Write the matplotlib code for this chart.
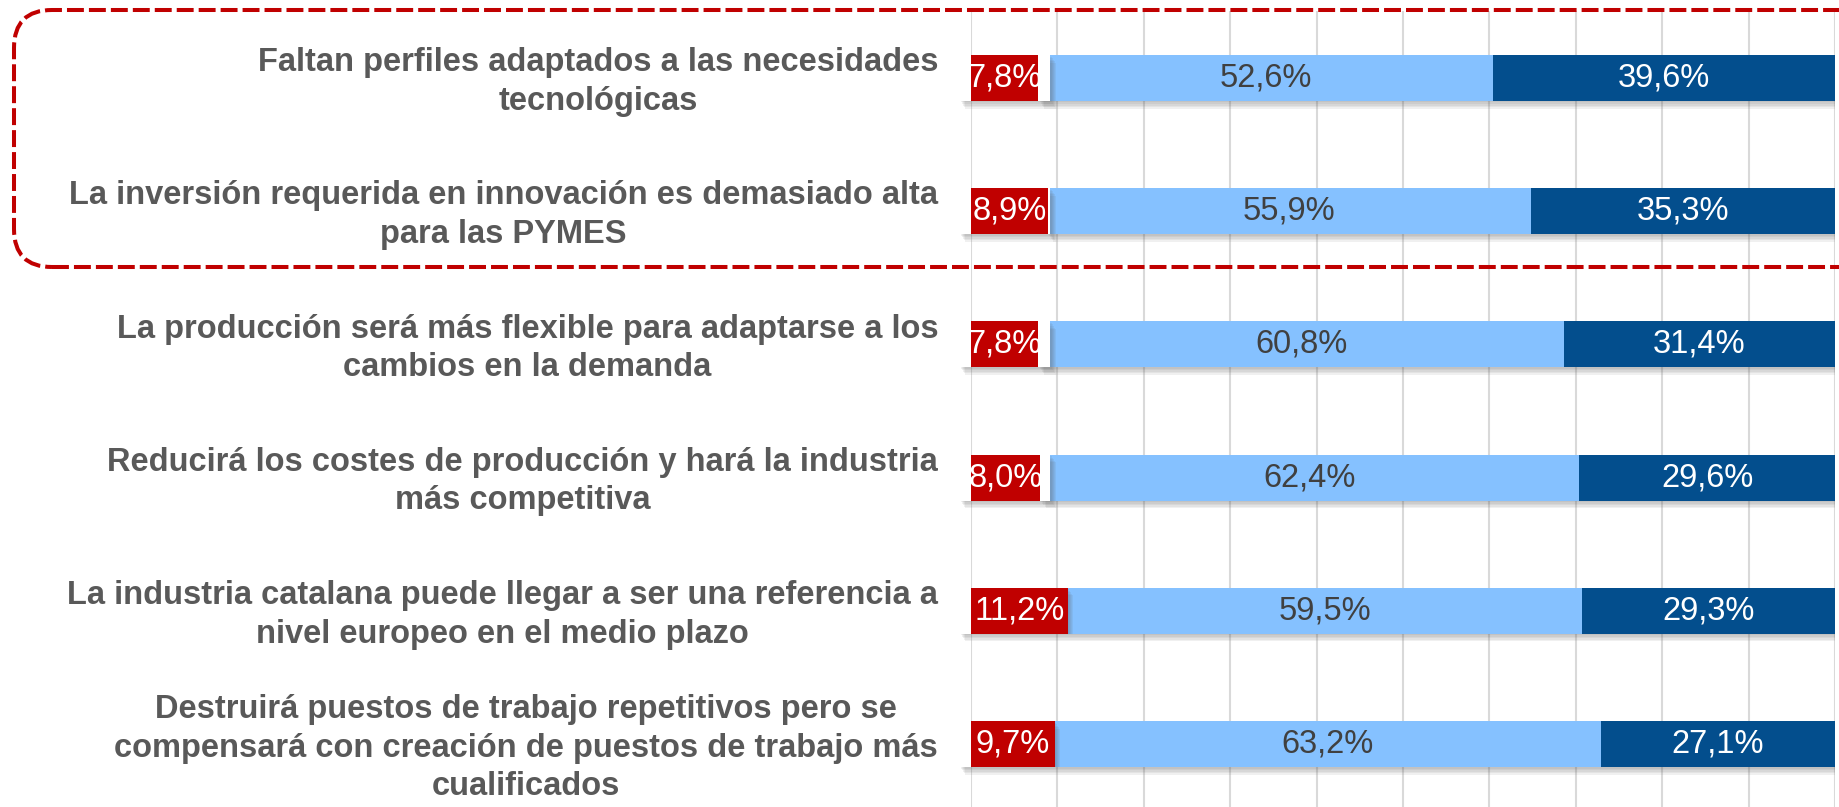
import numpy as np
import matplotlib
matplotlib.use("Agg")
import matplotlib.pyplot as plt
import matplotlib.patheffects as pe
from matplotlib.patches import Rectangle, FancyBboxPatch
from matplotlib.transforms import IdentityTransform

plt.rcParams['font.family'] = ['Liberation Sans', 'DejaVu Sans']

## datos
categories = [
    "Faltan perfiles adaptados a las necesidades\ntecnológicas",
    "La inversión requerida en innovación es demasiado alta\npara las PYMES",
    "La producción será más flexible para adaptarse a los\ncambios en la demanda",
    "Reducirá los costes de producción y hará la industria\nmás competitiva",
    "La industria catalana puede llegar a ser una referencia a\nnivel europeo en el medio plazo",
    "Destruirá puestos de trabajo repetitivos pero se\ncompensará con creación de puestos de trabajo más\ncualificados",
]
red_vals = [7.8, 8.9, 7.8, 8.0, 11.2, 9.7]
light_vals = [52.6, 55.9, 60.8, 62.4, 59.5, 63.2]
dark_vals = [39.6, 35.3, 31.4, 29.6, 29.3, 27.1]

RED = "#C00000"
LIGHT = "#85C1FF"
DARK = "#034E8D"
GRID = "#D9D9D9"
LABEL = "#595959"

W, H = 1839, 807
fig = plt.figure(figsize=(W / 100, H / 100), dpi=100)
ax = fig.add_axes([971 / W, -0.0045, 864 / W, 0.9904])

y = np.arange(len(categories))
h = 0.345
# sombra difusa: varias capas suaves
shadow = [pe.SimplePatchShadow(offset=(k * 0.8, -k * 1.1), shadow_rgbFace="#606060", alpha=0.09)
          for k in range(1, 6)] + [pe.Normal()]

left_dark = [r + l for r, l in zip(red_vals, light_vals)]
ax.barh(y, light_vals, left=red_vals, height=h, color=LIGHT, zorder=2, path_effects=shadow)
ax.barh(y, dark_vals, left=left_dark, height=h, color=DARK, zorder=2, path_effects=shadow)

# caja blanca de la etiqueta roja
for yi, r in zip(y, red_vals):
    box = Rectangle((-1.3, yi - h / 2), max(r, 9.2) + 1.3, h, facecolor="white",
                    edgecolor="none", zorder=3, clip_on=False, path_effects=shadow)
    ax.add_patch(box)
ax.barh(y, red_vals, height=h, color=RED, zorder=4)

def fmt(v):
    return f"{v:.1f}%".replace(".", ",")

for yi, r, l, d in zip(y, red_vals, light_vals, dark_vals):
    ax.text(r / 2, yi, fmt(r), ha="center", va="center", fontsize=23.5, color="white", zorder=5)
    ax.text(r + l / 2, yi, fmt(l), ha="center", va="center", fontsize=23.5, color="#404040", zorder=5)
    ax.text(r + l + d / 2, yi, fmt(d), ha="center", va="center", fontsize=23.5, color="white", zorder=5)

for yi, cat in zip(y, categories):
    ax.text(-3.8, yi + 0.03, cat, ha="right", va="center", multialignment="center",
            fontsize=23.5, fontweight="bold", color=LABEL, linespacing=1.32)

ax.set_xlim(0, 100)
ax.set_ylim(5.5, -0.5)
ax.set_xticks(range(0, 101, 10))
ax.set_yticks([])
ax.grid(axis="x", color=GRID, linewidth=1.5)
ax.set_axisbelow(True)
ax.tick_params(length=0, labelbottom=False)
for s in ax.spines.values():
    s.set_visible(False)

## recuadro discontinuo
frame = FancyBboxPatch((14, H - 267), 1950, 257, boxstyle="round,pad=0,rounding_size=38",
                       transform=IdentityTransform(), fill=False, edgecolor=RED,
                       linewidth=2.9, linestyle=(0, (4.2, 1.25)))
fig.add_artist(frame)

plt.savefig("out.png", dpi=100)
